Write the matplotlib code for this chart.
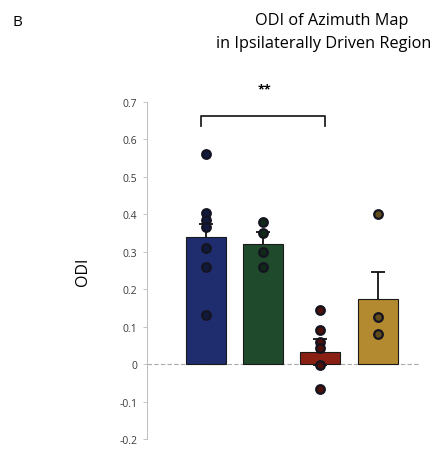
import numpy as np
import matplotlib
matplotlib.use("Agg")
import matplotlib.pyplot as plt
from matplotlib.colors import to_rgb

plt.rcParams['font.family'] = ['Open Sans', 'DejaVu Sans']

# group means, SEM and individual animals
means = [0.34, 0.322, 0.032, 0.173]
sems = [0.035, 0.03, 0.035, 0.072]
points = [
    [0.56, 0.405, 0.385, 0.365, 0.31, 0.26, 0.13],
    [0.38, 0.35, 0.30, 0.26],
    [0.145, 0.09, 0.06, 0.043, -0.003, -0.066],
    [0.40, 0.127, 0.08],
]
bar_colors = ["#1f2d6e", "#1f4a2c", "#8a1f14", "#b38a2f"]
yticks = [-0.2, -0.1, 0, 0.1, 0.2, 0.3, 0.4, 0.5, 0.6, 0.7]
ytick_labels = ["-0.2", "-0.1", "0", "0.1", "0.2", "0.3", "0.4", "0.5", "0.6", "0.7"]

fig = plt.figure(figsize=(4.45, 4.56), dpi=100)
ax = fig.add_axes([0.330, 0.035, 0.614, 0.739])

x = np.arange(len(means))
ax.axhline(0, color="#aaaaaa", lw=0.8, ls=(0, (4, 2)), zorder=1)
ax.errorbar(x, means, yerr=sems, fmt="none", ecolor="#111111", elinewidth=1.3,
            capsize=4.7, capthick=1.3, zorder=2)
ax.bar(x, means, width=0.7, color=bar_colors, edgecolor="#1a1a1a", linewidth=0.8, zorder=3)

for i, vals in enumerate(points):
    # dots: dark outline, fill a darkened shade of the bar colour
    fill = tuple(0.55 * c for c in to_rgb(bar_colors[i]))
    ax.plot(np.full(len(vals), x[i]), vals, "o", ms=6.2, mfc=fill,
            mec="#141420", mew=1.6, zorder=4, clip_on=False)

ax.set_xlim(-1.03, 3.74)
ax.set_ylim(-0.2, 0.7)
ax.set_yticks(yticks)
ax.set_yticklabels(ytick_labels, fontsize=7.5, color="#3a3a3a")
ax.tick_params(axis="y", length=3, width=0.6, color="#bbbbbb", pad=4)
ax.set_xticks([])
for s in ["top", "right", "bottom"]:
    ax.spines[s].set_visible(False)
ax.spines["left"].set_color("#bbbbbb")
ax.spines["left"].set_linewidth(0.7)
ax.set_ylabel("ODI", fontsize=11.5, labelpad=20)

# significance bracket between first and third groups
ax.plot([0 - 0.09, 0 - 0.09, 2 + 0.08, 2 + 0.08], [0.635, 0.662, 0.662, 0.635],
        color="#222222", lw=1.3, clip_on=False)
ax.text(1.03, 0.735, "**", ha="center", va="center", fontsize=9, fontweight="bold")

fig.text(0.746, 0.955, "ODI of Azimuth Map", ha="center", va="center", fontsize=11.7)
fig.text(0.728, 0.903, "in Ipsilaterally Driven Region", ha="center", va="center", fontsize=11.7)
fig.text(0.04, 0.95, "B", ha="center", va="center", fontsize=11)

fig.savefig("out.png", dpi=100)
